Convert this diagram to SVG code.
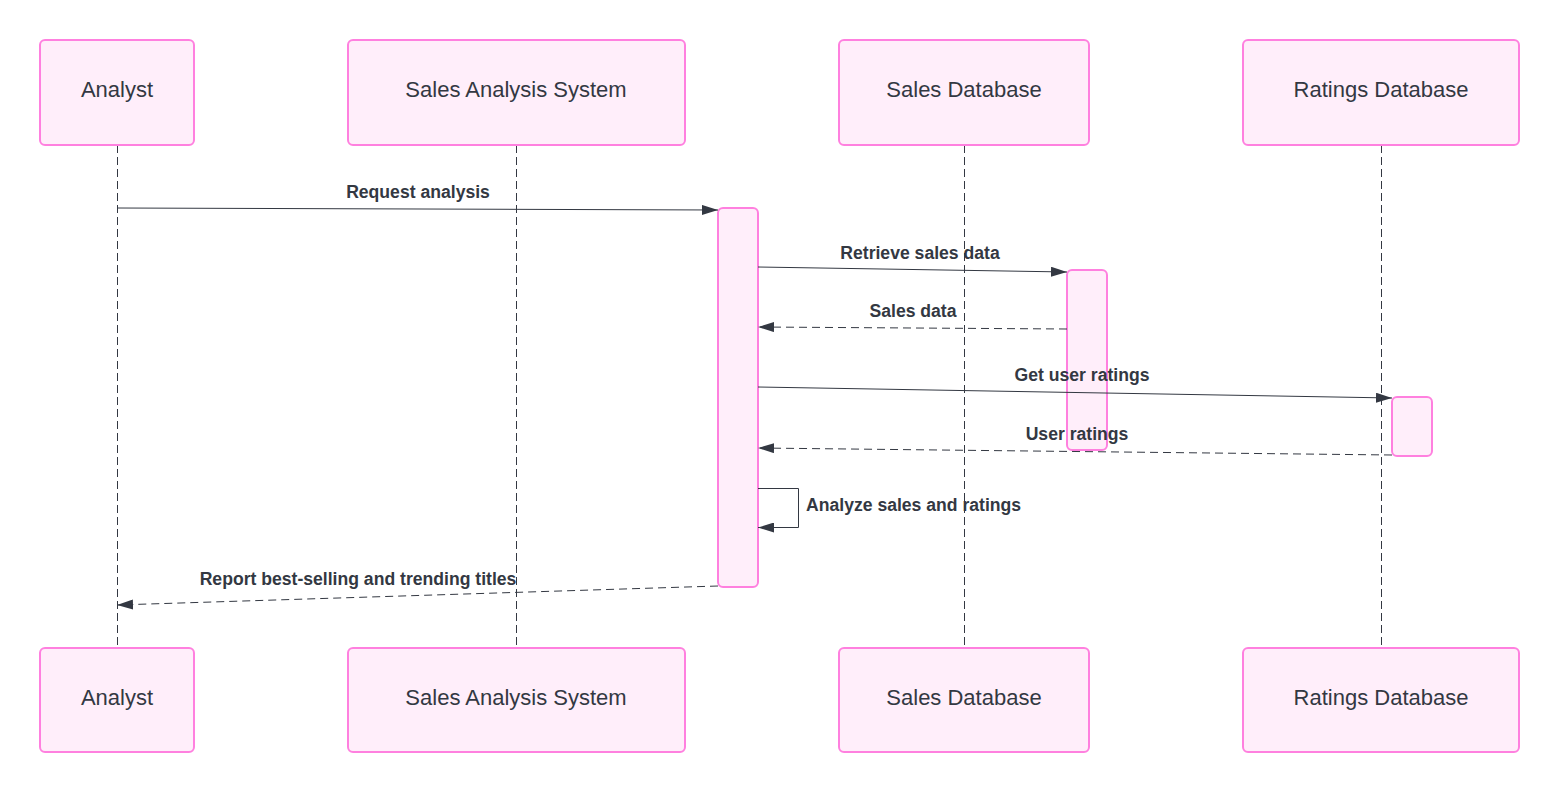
<svg xmlns="http://www.w3.org/2000/svg" width="1560" height="793" viewBox="0 0 1560 793">
<style>
.actor{fill:#ffeefa;stroke:#ff80df;stroke-width:2}
.act{fill:#ffeefa;stroke:#ff80df;stroke-width:2}
.atext{font-family:"Liberation Sans",Arial,sans-serif;font-size:22px;fill:#333842;text-anchor:middle;dominant-baseline:central}
.life{stroke:#333842;stroke-width:1;stroke-dasharray:8 4;fill:none}
.msg{stroke:#333842;stroke-width:1;fill:none}
.dash{stroke-dasharray:8 5}
.mtext{font-family:"Liberation Sans",Arial,sans-serif;font-size:17.6px;font-weight:bold;fill:#333842;text-anchor:middle}
</style>
<defs>
<marker id="arr" viewBox="0 0 16 10" refX="16" refY="5" markerWidth="16" markerHeight="10" markerUnits="userSpaceOnUse" orient="auto">
<path d="M0,0 L16,5 L0,10 Z" fill="#333842"/>
</marker>
</defs>
<g id="lifelines">
<line class="life" x1="117.5" y1="145" x2="117.5" y2="648"/>
<line class="life" x1="516.5" y1="145" x2="516.5" y2="648"/>
<line class="life" x1="964.5" y1="145" x2="964.5" y2="648"/>
<line class="life" x1="1381.5" y1="145" x2="1381.5" y2="648"/>
</g>
<g id="actor-analyst-top"><rect class="actor" x="40" y="40" width="154" height="105" rx="5"/><text class="atext" x="117" y="89.5">Analyst</text></g>
<g id="actor-sas-top"><rect class="actor" x="348" y="40" width="337" height="105" rx="5"/><text class="atext" x="516" y="89.5">Sales Analysis System</text></g>
<g id="actor-salesdb-top"><rect class="actor" x="839" y="40" width="250" height="105" rx="5"/><text class="atext" x="964" y="89.5">Sales Database</text></g>
<g id="actor-ratingsdb-top"><rect class="actor" x="1243" y="40" width="276" height="105" rx="5"/><text class="atext" x="1381" y="89.5">Ratings Database</text></g>
<g id="actor-analyst-bottom"><rect class="actor" x="40" y="648" width="154" height="104" rx="5"/><text class="atext" x="117" y="697.5">Analyst</text></g>
<g id="actor-sas-bottom"><rect class="actor" x="348" y="648" width="337" height="104" rx="5"/><text class="atext" x="516" y="697.5">Sales Analysis System</text></g>
<g id="actor-salesdb-bottom"><rect class="actor" x="839" y="648" width="250" height="104" rx="5"/><text class="atext" x="964" y="697.5">Sales Database</text></g>
<g id="actor-ratingsdb-bottom"><rect class="actor" x="1243" y="648" width="276" height="104" rx="5"/><text class="atext" x="1381" y="697.5">Ratings Database</text></g>
<g id="activation-sas"><rect class="act" x="718" y="208" width="40" height="379" rx="5"/></g>
<g id="activation-salesdb"><rect class="act" x="1067" y="270" width="40" height="180" rx="5"/></g>
<g id="activation-ratingsdb"><rect class="act" x="1392" y="397" width="40" height="59" rx="5"/></g>
<g id="connectors">
<line class="msg" x1="117" y1="208" x2="718" y2="210" marker-end="url(#arr)"/>
<line class="msg" x1="758" y1="267" x2="1067" y2="272" marker-end="url(#arr)"/>
<line class="msg dash" x1="1067" y1="329" x2="758" y2="327" marker-end="url(#arr)"/>
<line class="msg" x1="758" y1="387" x2="1392" y2="398" marker-end="url(#arr)"/>
<line class="msg dash" x1="1392" y1="455" x2="758" y2="448" marker-end="url(#arr)"/>
<path class="msg" d="M758,488.5 H798.5 V527.5 H758" marker-end="url(#arr)"/>
<line class="msg dash" x1="718" y1="586" x2="117" y2="605" marker-end="url(#arr)"/>
</g>
<g id="labels">
<text class="mtext" x="418" y="198">Request analysis</text>
<text class="mtext" x="920" y="259">Retrieve sales data</text>
<text class="mtext" x="913" y="317">Sales data</text>
<text class="mtext" x="1082" y="381">Get user ratings</text>
<text class="mtext" x="1077" y="440">User ratings</text>
<text class="mtext" x="806" y="511" style="text-anchor:start">Analyze sales and ratings</text>
<text class="mtext" x="358" y="585">Report best-selling and trending titles</text>
</g>
</svg>
